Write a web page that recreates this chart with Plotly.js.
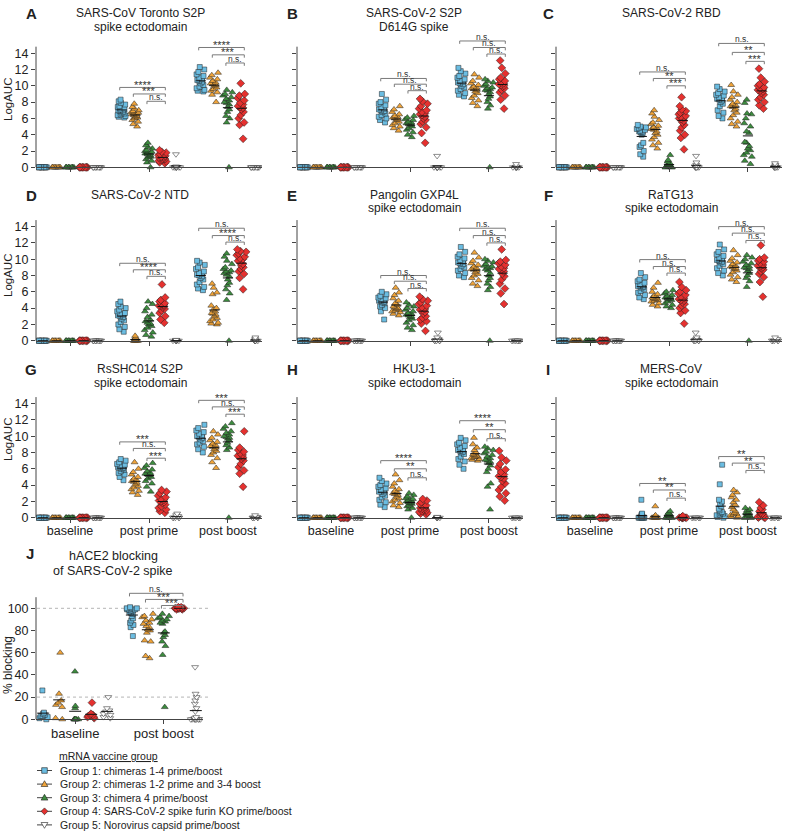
<!DOCTYPE html>
<html><head><meta charset="utf-8">
<script src="https://cdn.plot.ly/plotly-3.0.1.min.js"></script>
<style>html,body{margin:0;padding:0;background:#fff}#chart{width:787px;height:832px}</style>
</head><body><div id="chart"></div>
<script>
// ---------------- DATA ----------------
const timepoints = ['baseline', 'post prime', 'post boost'];
const timepointsJ = ['baseline', 'post boost'];
const groupNames = [
  'Group 1: chimeras 1-4 prime/boost',
  'Group 2: chimeras 1-2 prime and 3-4 boost',
  'Group 3: chimera 4 prime/boost',
  'Group 4: SARS-CoV-2 spike furin KO prime/boost',
  'Group 5: Norovirus capsid prime/boost'
];
const legendTitle = 'mRNA vaccine group';

// baseline LogAUC values (all groups at 0 in every antigen panel)
const baselineLogAUC = [
  [0,0,0,0,0,0,0,0,0,0],
  [0,0,0,0,0,0,0,0,0,0],
  [0,0,0,0,0,0,0,0,0,0],
  [0,0,0,0,0,0,0,0,0,0],
  [0,0,0,0,0,0,0,0,0,0]
];

const A_title = ['SARS-CoV Toronto S2P', 'spike ectodomain'];
const A_prime = [
  [8.3,8.1,7.9,7.7,7.5,7.4,7.2,7.1,7.0,7.0,6.9,6.8,6.7,6.6,6.5,6.4,6.3,6.2,6.1],
  [7.8,7.4,7.2,7.0,6.9,6.8,6.7,6.6,6.5,6.5,6.4,6.3,6.2,6.1,6.0,5.8,5.6,5.3,5.0],
  [3.0,2.7,2.5,2.3,2.1,2.0,1.9,1.8,1.7,1.7,1.6,1.5,1.4,1.3,1.2,1.0,0.8,0.6,0.0],
  [2.1,1.9,1.8,1.6,1.5,1.4,1.3,1.3,1.2,1.2,1.1,1.0,1.0,0.9,0.8,0.7,0.6,0.5],
  [1.6,0.1,0,0,0,0,0,0,0,0]
];
const A_boost = [
  [12.3,12.0,11.7,11.4,11.2,11.0,10.8,10.7,10.6,10.5,10.3,10.1,9.9,9.7,9.5,9.4,9.3],
  [11.6,11.3,11.0,10.8,10.6,10.4,10.3,10.2,10.1,10.0,9.8,9.6,9.4,9.2,8.9,8.0],
  [9.5,9.2,9.0,8.8,8.6,8.4,8.2,8.0,7.9,7.7,7.4,7.1,6.8,6.3,6.0,5.5,0.0],
  [10.3,9.0,8.8,8.5,8.2,7.9,7.7,7.5,7.4,7.3,7.1,6.8,6.4,6.0,5.5,5.2,3.5],
  [0,0,0,0,0,0,0,0,0,0]
];
const A_sig = [['****','***','n.s.'], ['****','***','n.s.']];

const B_title = ['SARS-CoV-2 S2P', 'D614G spike'];
const B_prime = [
  [9.0,8.3,8.0,7.8,7.6,7.4,7.2,7.1,7.0,6.9,6.8,6.6,6.4,6.2,6.0,5.8,5.5],
  [7.5,7.1,6.8,6.5,6.3,6.2,6.1,6.0,5.9,5.8,5.6,5.4,5.2,5.0,4.8,4.5],
  [6.3,6.1,5.9,5.8,5.6,5.5,5.4,5.4,5.3,5.2,5.0,4.8,4.6,4.3,4.0,3.7],
  [8.4,8.1,7.8,7.5,7.2,7.0,6.8,6.6,6.5,6.4,6.2,6.0,5.8,5.6,5.3,4.9,4.2,3.0],
  [1.4,0,0,0,0,0,0,0,0]
];
const B_boost = [
  [12.2,11.8,11.5,11.2,11.0,10.8,10.6,10.5,10.4,10.3,10.2,10.0,9.8,9.6,9.4,9.1,8.9,8.7],
  [11.4,11.0,10.6,10.3,10.1,9.9,9.8,9.7,9.6,9.5,9.3,9.1,8.8,8.5,8.2,7.9,7.5],
  [10.8,10.6,10.4,10.2,10.0,9.8,9.7,9.6,9.5,9.4,9.2,9.0,8.7,8.4,8.0,7.6,7.2,0],
  [13.1,12.2,11.5,11.0,10.8,10.6,10.4,10.3,10.2,10.1,10.0,9.9,9.7,9.5,9.2,8.8,8.3,7.2],
  [0.4,0.1,0,0,0,0,0,0,0]
];
const B_sig = [['n.s.','n.s.','n.s.'], ['n.s.','n.s.','n.s.']];

const C_title = ['SARS-CoV-2 RBD'];
const C_prime = [
  [5.2,5.0,4.9,4.8,4.7,4.6,4.5,4.4,4.4,4.3,4.2,4.0,3.0,2.7,2.5,2.0,1.6,1.3],
  [7.0,6.6,6.2,5.8,5.5,5.3,5.1,4.9,4.8,4.7,4.6,4.4,4.2,4.0,3.7,3.4,3.0,2.7,2.3],
  [1.5,0.9,0.7,0.5,0.4,0.3,0.3,0.2,0.2,0.1,0.1,0.1,0,0,0,0],
  [8.6,7.5,7.1,6.9,6.7,6.5,6.3,6.2,6.1,6.0,5.9,5.7,5.5,5.2,4.9,4.5,4.0,3.6,2.2],
  [1.4,0.6,0.3,0,0,0,0,0,0]
];
const C_boost = [
  [9.9,9.6,9.3,9.1,8.9,8.8,8.6,8.5,8.4,8.3,8.2,8.0,7.8,7.5,7.0,6.7,6.3,6.0],
  [10.1,9.3,8.9,8.6,8.3,8.0,7.8,7.6,7.5,7.4,7.2,7.0,6.7,6.4,6.0,5.6,5.3,5.0],
  [8.3,7.9,6.6,6.5,6.0,5.4,5.0,4.4,4.2,3.1,3.0,2.6,2.3,2.1,1.8,1.5,1.3,0.8,0.4],
  [12.1,11.0,10.5,10.2,10.0,9.8,9.7,9.6,9.5,9.4,9.3,9.1,8.9,8.6,8.3,8.0,7.6,7.2],
  [0.5,0.3,0.2,0,0,0,0,0,0]
];
const C_sig = [['n.s.','**','***'], ['n.s.','**','***']];

const D_title = ['SARS-CoV-2 NTD'];
const D_prime = [
  [4.8,4.5,4.2,4.0,3.8,3.6,3.4,3.3,3.2,3.1,3.0,2.9,2.7,2.5,2.3,2.0,1.7,1.4,1.1],
  [0.6,0.4,0.3,0.2,0.1,0.1,0,0,0,0,0,0],
  [4.8,4.5,4.0,3.6,3.2,2.9,2.6,2.4,2.2,2.1,2.0,1.8,1.6,1.3,1.0,0.7,0.5],
  [6.9,5.3,5.0,4.8,4.6,4.5,4.4,4.3,4.3,4.2,4.1,3.9,3.7,3.4,3.0,2.6,2.2],
  [0.1,0.05,0,0,0,0,0,0,0]
];
const D_boost = [
  [9.8,9.6,9.3,9.0,8.8,8.5,8.3,8.2,8.1,8.0,7.9,7.7,7.5,7.2,6.9,6.6,6.4,6.2],
  [7.0,6.5,5.9,5.7,4.3,4.0,3.8,3.6,3.4,3.3,3.2,3.0,2.8,2.6,2.4,2.2,2.1,2.0],
  [10.7,10.3,9.8,9.4,9.0,8.8,8.6,8.5,8.4,8.3,8.1,7.9,7.5,7.1,6.8,6.3,5.8,5.0,0],
  [11.2,11.0,10.9,10.7,10.5,10.3,10.1,10.0,9.8,9.6,9.4,9.2,9.0,8.8,8.5,8.2,7.7,6.3],
  [0.4,0.2,0,0,0,0,0,0]
];
const D_sig = [['n.s.','****','n.s.'], ['n.s.','****','n.s.']];

const E_title = ['Pangolin GXP4L', 'spike ectodomain'];
const E_prime = [
  [6.0,5.7,5.5,5.3,5.2,5.1,5.0,4.9,4.9,4.8,4.7,4.6,4.4,4.2,4.0,3.6,2.6],
  [6.5,5.9,5.6,5.2,4.9,4.6,4.4,4.2,4.1,4.0,3.9,3.8,3.7,3.6,3.5,3.3,3.1],
  [4.7,4.4,4.2,4.0,3.8,3.6,3.4,3.3,3.2,3.1,3.0,2.9,2.7,2.5,2.2,1.9,1.6,1.3],
  [5.4,5.1,4.9,4.7,4.5,4.3,4.1,3.9,3.8,3.7,3.5,3.3,3.0,2.8,2.6,2.4,2.1,1.2],
  [1.0,0.4,0.2,0,0,0,0,0]
];
const E_boost = [
  [11.5,10.9,10.6,10.3,10.1,9.9,9.7,9.6,9.5,9.4,9.2,9.0,8.8,8.6,8.3,8.0,7.8],
  [10.8,10.2,9.8,9.5,9.3,9.1,8.9,8.8,8.7,8.6,8.4,8.2,8.0,7.7,7.4,7.0,6.7],
  [10.0,9.8,9.6,9.4,9.2,9.1,9.0,8.9,8.8,8.6,8.3,8.0,7.7,7.4,7.0,6.6,6.2,0],
  [11.2,9.9,9.7,9.5,9.3,9.1,8.9,8.8,8.7,8.5,8.2,7.9,7.5,7.0,6.4,5.8,4.5],
  [0,0,0,0,0,0,0,0]
];
const E_sig = [['n.s.','n.s.','n.s.'], ['n.s.','n.s.','n.s.']];

const F_title = ['RaTG13', 'spike ectodomain'];
const F_prime = [
  [8.3,7.8,7.5,7.3,7.1,6.9,6.8,6.7,6.7,6.6,6.5,6.3,6.1,5.9,5.6,5.3,5.1],
  [7.1,6.5,6.0,5.7,5.5,5.4,5.3,5.2,5.2,5.1,5.0,4.9,4.8,4.6,4.4,4.2],
  [6.2,6.0,5.8,5.6,5.5,5.4,5.3,5.2,5.2,5.1,5.0,4.8,4.6,4.4,4.2,4.0],
  [7.2,6.6,6.2,6.0,5.8,5.6,5.4,5.2,5.1,5.0,4.9,4.7,4.5,4.3,4.0,3.7,3.4,2.1],
  [1.0,0.4,0.2,0.1,0,0,0,0,0]
];
const F_boost = [
  [11.8,11.2,10.9,10.6,10.4,10.2,10.0,9.9,9.8,9.7,9.6,9.4,9.2,8.9,8.6,8.3,8.0],
  [11.1,10.5,10.1,9.8,9.6,9.4,9.2,9.1,9.0,8.9,8.8,8.6,8.4,8.1,7.8,7.5,7.2],
  [10.5,10.2,10.0,9.7,9.5,9.3,9.1,9.0,8.9,8.8,8.6,8.3,8.0,7.7,7.3,6.6,0],
  [11.7,10.2,10.0,9.8,9.7,9.5,9.3,9.2,9.1,9.0,8.9,8.7,8.5,8.2,7.8,7.2,5.4],
  [0.4,0.2,0,0,0,0,0]
];
const F_sig = [['n.s.','n.s.','n.s.'], ['n.s.','n.s.','n.s.']];

const G_title = ['RsSHC014 S2P', 'spike ectodomain'];
const G_prime = [
  [7.2,7.0,6.8,6.6,6.5,6.4,6.3,6.2,6.2,6.1,6.0,5.9,5.7,5.5,5.3,5.0,4.6],
  [6.8,6.0,5.6,5.3,5.0,4.8,4.6,4.5,4.4,4.3,4.1,3.9,3.7,3.5,3.3,3.1,2.8],
  [6.7,6.4,6.1,5.9,5.7,5.5,5.4,5.3,5.3,5.2,5.0,4.8,4.5,4.2,3.8,3.2],
  [3.4,3.2,3.0,2.7,2.5,2.3,2.2,2.1,2.0,1.9,1.8,1.6,1.4,1.2,1.0,0.8,0.6],
  [0.5,0.3,0.2,0,0,0,0,0]
];
const G_boost = [
  [11.4,11.0,10.7,10.5,10.3,10.1,10.0,9.9,9.8,9.6,9.4,9.2,9.0,8.7,8.4,8.0],
  [10.6,10.2,9.8,9.5,9.3,9.1,8.9,8.8,8.7,8.6,8.4,8.2,8.0,7.7,7.3,6.8,6.1],
  [11.6,11.2,10.9,10.6,10.4,10.2,10.0,9.9,9.8,9.7,9.5,9.2,8.9,8.6,8.3,0],
  [10.6,8.6,8.3,8.1,7.9,7.7,7.6,7.5,7.4,7.2,7.0,6.6,6.2,5.8,5.4,3.8],
  [0.3,0.1,0,0,0,0,0]
];
const G_sig = [['***','n.s.','***'], ['***','n.s.','***']];

const H_title = ['HKU3-1', 'spike ectodomain'];
const H_prime = [
  [4.9,4.5,4.2,4.0,3.8,3.6,3.4,3.3,3.2,3.2,3.1,2.9,2.7,2.5,2.2,1.9,1.6,1.3],
  [5.3,4.6,4.2,3.8,3.5,3.3,3.1,3.0,2.9,2.8,2.6,2.4,2.2,2.0,1.8,1.5,1.3],
  [3.0,2.8,2.6,2.4,2.3,2.2,2.1,2.0,1.9,1.9,1.8,1.7,1.5,1.4,1.2,1.0,0.0],
  [2.3,2.1,1.9,1.7,1.5,1.4,1.3,1.2,1.1,1.1,1.0,0.9,0.8,0.7,0.6,0.5,0.4],
  [0.1,0,0,0,0,0,0]
];
const H_boost = [
  [9.8,9.5,9.2,9.0,8.8,8.6,8.4,8.3,8.2,8.1,8.0,7.8,7.5,7.2,6.9,6.5,6.0],
  [9.8,9.0,8.6,8.3,8.0,7.8,7.7,7.6,7.5,7.5,7.4,7.3,7.2,7.1,7.0],
  [8.7,8.5,8.3,8.1,7.9,7.7,7.5,7.3,7.1,7.0,6.9,6.7,6.4,6.0,5.6,4.2,3.8,1.0],
  [8.2,7.4,7.0,6.6,6.2,5.9,5.6,5.3,5.1,5.0,4.8,4.5,4.2,3.8,3.4,3.0,2.6,2.1],
  [0,0,0,0,0,0,0]
];
const H_sig = [['****','**','n.s.'], ['****','**','n.s.']];

const I_title = ['MERS-CoV', 'spike ectodomain'];
const I_prime = [
  [2.2,0.5,0.4,0.3,0.2,0.1,0.1,0,0,0,0,0,0,0],
  [1.4,0.3,0.2,0.1,0.1,0,0,0,0,0,0,0],
  [0.8,0.6,0.5,0.4,0.3,0.2,0.1,0.1,0,0,0,0,0],
  [0.2,0.1,0.1,0,0,0,0,0,0,0,0],
  [0,0,0,0,0,0,0]
];
const I_boost = [
  [6.5,4.1,2.2,2.0,1.7,1.4,1.1,0.9,0.7,0.6,0.5,0.4,0.3,0.2,0.1,0],
  [3.4,3.1,2.8,2.5,2.2,1.9,1.6,1.3,1.0,0.8,0.6,0.5,0.4,0.3,0.2,0.1,0],
  [1.2,1.0,0.9,0.7,0.6,0.5,0.4,0.3,0.2,0.1,0,0,0,0],
  [1.9,1.5,1.2,1.0,0.8,0.6,0.5,0.4,0.3,0.2,0.1,0,0,0],
  [0,0,0,0,0,0,0]
];
const I_sig = [['**','**','n.s.'], ['**','**','n.s.']];

const J_title = ['hACE2 blocking', 'of SARS-CoV-2 spike'];
const J_baseline = [
  [26,6,5,4,3,3,2,1,0],
  [60,23,17,15,13,11,1,0],
  [43,12,10,0,0,0,0,0,0],
  [15,5,4,4,3,2,2,1],
  [20,10,8,7,5,4,2,1]
];
const J_boost = [
  [101,100,100,100,99,99,99,98,98,97,96,95,93,91,89,87,85,83,75],
  [95,93,92,90,89,87,86,84,83,81,80,78,71,70,57,55],
  [95,93,92,91,90,89,88,87,86,79,78,76,74,70,66,58,11],
  [101,100,100,100,100,100,100,99,99,100,100,101],
  [47,23,20,17,14,10,7,2,1,0,0,0,0,0,0,0,0,0]
];
const J_sig = ['n.s.', '***', '***'];

// ---------------- LAYOUT CONSTANTS ----------------
const W = 787, H = 832;
const FONT = 'Liberation Sans Narrow, Arial Narrow, Liberation Sans, Arial, sans-serif';
const FONT_NUM = 'Liberation Sans, Arial, sans-serif';
const TXT = '#222';
const AX = '#444';
const colX = [36, 297, 556];
const panelW = 226;
const rowZero = [167.3, 340.7, 517.7];
const PPU = 8.15;
const LOG_RANGE = [-0.75, 15.9];
const X_RANGE = [-0.5, 16.1];
const tpStart = [0, 5.8, 11.6];
const AXIS_TOP = 14.8;
const titleX = [140, 414, 671];
const letterX = [31, 292, 548];
const titleY = [[13, 27], [195, 208], [369, 383]];
const ylabelY = [100, 276, 440];
// bracket heights (data units) per panel: [prime levels], [boost levels]
const bracketY = [
  [[9.8, 9.0, 8.1], [14.7, 13.8, 12.8]],
  [[10.9, 10.2, 9.4], [15.5, 14.7, 13.9]],
  [[11.7, 10.9, 10.0], [15.2, 14.1, 13.0]],
  [[9.5, 8.7, 7.9], [13.8, 12.9, 12.1]],
  [[8.0, 7.3, 6.4], [13.8, 12.9, 12.0]],
  [[9.95, 9.1, 8.3], [14.0, 13.2, 12.3]],
  [[9.3, 8.5, 7.3], [14.4, 13.6, 12.7]],
  [[7.0, 6.0, 4.9], [11.9, 10.8, 9.7]],
  [[4.2, 3.4, 2.4], [7.5, 6.7, 5.8]]
];

const styles = [
  {symbol: 'square', color: '#6bbde2', size: 5},
  {symbol: 'triangle-up', color: '#f0a43a', size: 6},
  {symbol: 'triangle-up', color: '#3d8c3f', size: 6},
  {symbol: 'diamond', color: '#e5312f', size: 6},
  {symbol: 'triangle-down', color: '#ffffff', size: 6}
];

const panels = [
  {letter: 'A', title: A_title, prime: A_prime, boost: A_boost, sig: A_sig},
  {letter: 'B', title: B_title, prime: B_prime, boost: B_boost, sig: B_sig},
  {letter: 'C', title: C_title, prime: C_prime, boost: C_boost, sig: C_sig},
  {letter: 'D', title: D_title, prime: D_prime, boost: D_boost, sig: D_sig},
  {letter: 'E', title: E_title, prime: E_prime, boost: E_boost, sig: E_sig},
  {letter: 'F', title: F_title, prime: F_prime, boost: F_boost, sig: F_sig},
  {letter: 'G', title: G_title, prime: G_prime, boost: G_boost, sig: G_sig},
  {letter: 'H', title: H_title, prime: H_prime, boost: H_boost, sig: H_sig},
  {letter: 'I', title: I_title, prime: I_prime, boost: I_boost, sig: I_sig}
];

const fx = p => p / W;
const fy = p => 1 - p / H;
const mean = a => a.reduce((s, v) => s + v, 0) / a.length;

const traces = [];
const shapes = [];
const annotations = [];
const layout = {
  width: W, height: H,
  margin: {l: 0, r: 0, t: 0, b: 0},
  paper_bgcolor: '#fff', plot_bgcolor: 'rgba(0,0,0,0)',
  showlegend: false,
  boxmode: 'overlay',
  font: {family: FONT, color: TXT, size: 12}
};

function addGroup(data, pos, g, xa, ya, boxW) {
  const st = styles[g];
  traces.push({
    type: 'box', x0: pos, y: data, xaxis: xa, yaxis: ya,
    boxpoints: 'all', jitter: 1, pointpos: 0, width: boxW,
    fillcolor: 'rgba(0,0,0,0)', line: {width: 0, color: 'rgba(0,0,0,0)'}, whiskerwidth: 0,
    marker: {symbol: st.symbol, size: st.size, color: st.color, line: {color: '#1e1e1e', width: 0.5}},
    hoverinfo: 'y', showlegend: false
  });
  const m = mean(data);
  traces.push({
    type: 'scatter', mode: 'lines', x: [pos - boxW * 0.5, pos + boxW * 0.5], y: [m, m],
    xaxis: xa, yaxis: ya, line: {color: '#111', width: 1}, hoverinfo: 'skip', showlegend: false
  });
}

function addBracket(xa, ya, xs, xe, y, d, label) {
  shapes.push({
    type: 'path', xref: xa, yref: ya, layer: 'above',
    path: `M ${xs},${y - d} L ${xs},${y} L ${xe},${y} L ${xe},${y - d}`,
    line: {color: '#7a7a7a', width: 1}
  });
  const star = label !== 'n.s.';
  annotations.push({
    xref: xa, yref: ya, x: (xs + xe) / 2, y: y, text: label, showarrow: false,
    yanchor: 'bottom', yshift: star ? -4.5 : -2, borderpad: 0,
    font: {size: star ? 11 : 8.5, color: '#333', family: star ? FONT_NUM : FONT}
  });
}

function textAnn(text, xpx, ypx, size, opts) {
  annotations.push(Object.assign({
    xref: 'paper', yref: 'paper', x: fx(xpx), y: fy(ypx), text: text, showarrow: false,
    xanchor: 'center', yanchor: 'middle', font: {size: size, color: TXT, family: FONT}
  }, opts || {}));
}

panels.forEach((p, i) => {
  const row = Math.floor(i / 3), col = i % 3, k = i + 1;
  const xa = 'x' + (k === 1 ? '' : k), ya = 'y' + (k === 1 ? '' : k);
  const xKey = 'xaxis' + (k === 1 ? '' : k), yKey = 'yaxis' + (k === 1 ? '' : k);
  const z = rowZero[row];
  const topPx = z - LOG_RANGE[1] * PPU, botPx = z - LOG_RANGE[0] * PPU;
  layout[xKey] = {
    domain: [fx(colX[col]), fx(colX[col] + panelW)], range: X_RANGE, type: 'linear',
    anchor: 'free', position: fy(z), showline: true, linecolor: AX, linewidth: 1,
    ticks: 'outside', ticklen: 4, tickwidth: 1, tickcolor: AX, ticklabelstandoff: -3,
    tickvals: [tpStart[0] + 2, tpStart[1] + 2, tpStart[2] + 2], ticktext: timepoints,
    showticklabels: row === 2, tickfont: {size: 12.5, color: TXT, family: FONT},
    showgrid: false, zeroline: false, fixedrange: true
  };
  layout[yKey] = {
    domain: [fy(botPx), fy(topPx)], range: LOG_RANGE, type: 'linear', anchor: xa,
    showline: false, ticks: 'outside', ticklen: 4, tickwidth: 1, tickcolor: AX,
    tickvals: [0, 2, 4, 6, 8, 10, 12, 14], showticklabels: col === 0,
    tickfont: {size: 12.5, color: TXT, family: FONT_NUM}, showgrid: false, zeroline: false, fixedrange: true
  };
  shapes.push({type: 'line', xref: 'paper', yref: ya, x0: fx(colX[col]), x1: fx(colX[col]),
    y0: 0, y1: AXIS_TOP, line: {color: AX, width: 1}});
  const sets = [baselineLogAUC, p.prime, p.boost];
  sets.forEach((set, t) => set.forEach((data, g) => addGroup(data, tpStart[t] + g, g, xa, ya, 0.75)));
  [1, 2].forEach(t => {
    for (let j = 0; j < 3; j++) {
      addBracket(xa, ya, tpStart[t] + j - 0.15, tpStart[t] + 3 + 0.2,
        bracketY[i][t - 1][j], 0.35, p.sig[t - 1][j]);
    }
  });
  p.title.forEach((line, li) => textAnn(line, titleX[col], titleY[row][li], 12));
  textAnn('<b>' + p.letter + '</b>', letterX[col], titleY[row][0], 15);
  if (col === 0) textAnn('LogAUC', 8, ylabelY[row], 11.5, {textangle: -90});
});

// ---------------- PANEL J ----------------
(function () {
  const xa = 'x10', ya = 'y10';
  const zJ = 719.3, ppuJ = 1.11;
  const rangeJ = [-5, 116];
  const tpJ = [0, 5.55];
  layout.xaxis10 = {
    domain: [fx(36), fx(203)], range: [-0.45, 10.0], type: 'linear',
    anchor: 'free', position: fy(zJ), showline: true, linecolor: AX, linewidth: 1,
    ticks: 'outside', ticklen: 4, tickwidth: 1, tickcolor: AX, ticklabelstandoff: -2,
    tickvals: [tpJ[0] + 2, tpJ[1] + 2], ticktext: timepointsJ,
    tickfont: {size: 13, color: TXT, family: FONT}, showgrid: false, zeroline: false, fixedrange: true
  };
  layout.yaxis10 = {
    domain: [fy(zJ - rangeJ[0] * ppuJ), fy(zJ - rangeJ[1] * ppuJ)], range: rangeJ, anchor: xa,
    showline: false, ticks: 'outside', ticklen: 4, tickwidth: 1, tickcolor: AX,
    tickvals: [0, 20, 40, 60, 80, 100], tickfont: {size: 12.5, color: TXT, family: FONT_NUM},
    showgrid: false, zeroline: false, fixedrange: true
  };
  shapes.push({type: 'line', xref: 'paper', yref: ya, x0: fx(36), x1: fx(36), y0: 0, y1: 110,
    line: {color: AX, width: 1}});
  [100, 20].forEach(v => shapes.push({type: 'line', xref: 'paper', yref: ya, x0: fx(37), x1: fx(208),
    y0: v, y1: v, layer: 'below', line: {color: '#b5b5b5', width: 1, dash: 'dot'}}));
  [J_baseline, J_boost].forEach((set, t) => set.forEach((data, g) => addGroup(data, tpJ[t] + g, g, xa, ya, 0.75)));
  const jY = [113.5, 108, 102.5];
  for (let j = 0; j < 3; j++) addBracket(xa, ya, tpJ[1] + j - 0.15, tpJ[1] + 3 + 0.2, jY[j], 2.8, J_sig[j]);
  J_title.forEach((line, li) => textAnn(line, 113, [556, 571][li], 12.5));
  textAnn('<b>J</b>', 30, 553, 15);
  textAnn('% blocking', 8, 665, 12, {textangle: -90});
})();

// ---------------- LEGEND (layout decoration) ----------------
textAnn('<u>' + legendTitle + '</u>', 57, 756, 10.5, {xanchor: 'left'});
groupNames.forEach((name, g) => {
  const cy = 770.5 + g * 13.6, cx = 44.5;
  shapes.push({type: 'line', xref: 'paper', yref: 'paper', x0: fx(37), x1: fx(52), y0: fy(cy), y1: fy(cy),
    line: {color: '#444', width: 1}});
  const st = styles[g];
  let pts;
  if (st.symbol === 'square') pts = [[-2.8, -2.8], [2.8, -2.8], [2.8, 2.8], [-2.8, 2.8]];
  else if (st.symbol === 'triangle-up') pts = [[0, -3.4], [3.4, 2.4], [-3.4, 2.4]];
  else if (st.symbol === 'diamond') pts = [[0, -3.4], [3.4, 0], [0, 3.4], [-3.4, 0]];
  else pts = [[0, 3.4], [3.4, -2.4], [-3.4, -2.4]];
  const path = pts.map((q, n) => (n ? 'L ' : 'M ') + fx(cx + q[0]) + ',' + fy(cy + q[1])).join(' ') + ' Z';
  shapes.push({type: 'path', xref: 'paper', yref: 'paper', path: path,
    fillcolor: st.color, line: {color: '#1e1e1e', width: 0.6}});
  textAnn(name, 58, cy, 10.5, {xanchor: 'left'});
});

layout.shapes = shapes;
layout.annotations = annotations;
Plotly.newPlot('chart', traces, layout, {staticPlot: true, displayModeBar: false});
</script></body></html>
